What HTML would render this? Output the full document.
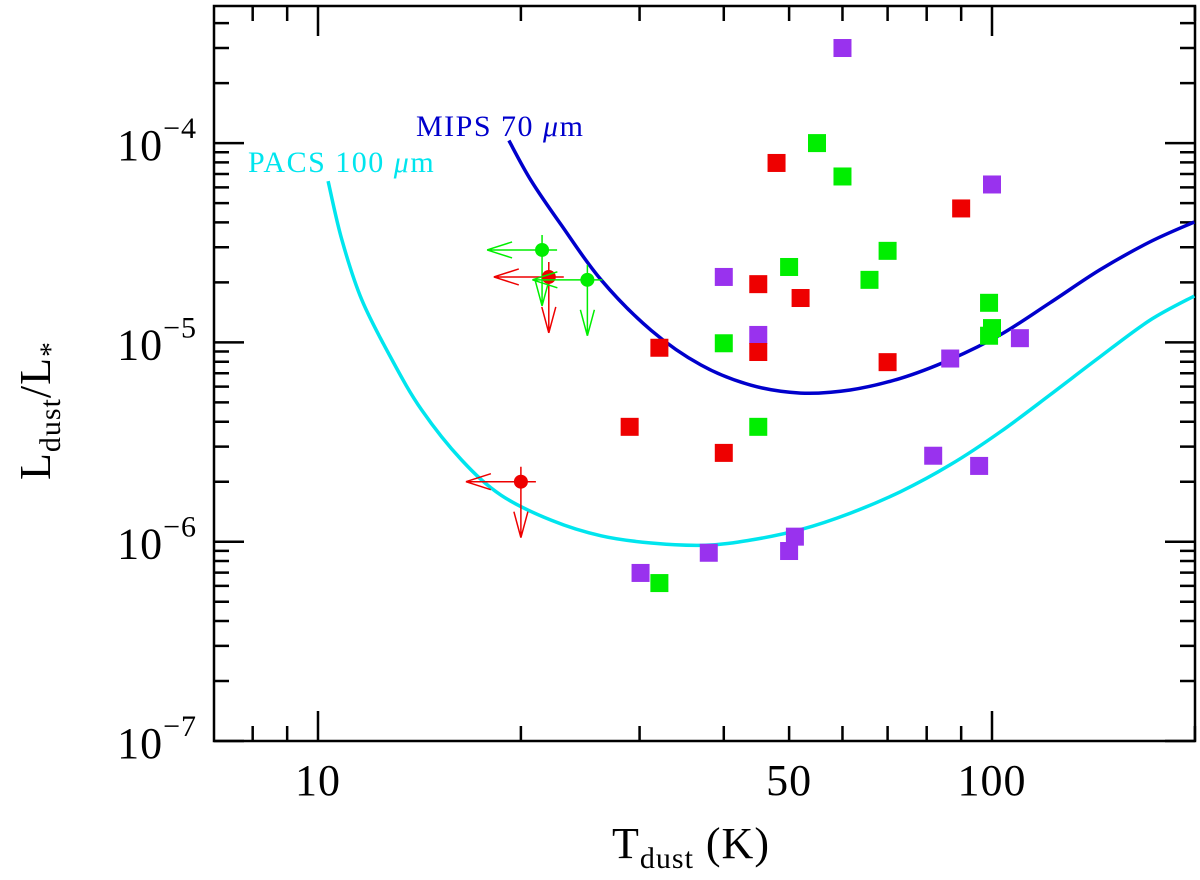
<!DOCTYPE html>
<html><head><meta charset="utf-8"><style>
html,body{margin:0;padding:0;background:#fff;}
svg{display:block;font-family:"Liberation Serif",serif;}
</style></head><body>
<svg id="chart" width="1200" height="880" viewBox="0 0 1200 880" xmlns="http://www.w3.org/2000/svg">
<g id="axes"></g><g id="curves"></g><g id="marks"></g>
<text x="416" y="136" fill="#0000cc" font-size="30" letter-spacing="1.5" font-family="Liberation Serif, serif">MIPS 70 <tspan font-style="italic">μ</tspan>m</text>
<text x="248" y="172" fill="#00e5ee" font-size="30" letter-spacing="1.5" font-family="Liberation Serif, serif">PACS 100 <tspan font-style="italic">μ</tspan>m</text>
<text x="612" y="858" font-size="44" letter-spacing="1">T<tspan font-size="30" dy="10">dust</tspan><tspan dy="-10">  (K)</tspan></text>
<text transform="translate(50,480) rotate(-90)" font-size="44" letter-spacing="1">L<tspan font-size="30" dy="10">dust</tspan><tspan dy="-10">/L</tspan><tspan font-size="30" dy="10">*</tspan></text>
</svg>
<script>
const purpleT=[60,100,40,45,86.7,110,81.8,95.7,51,50,38,30.1];
const purpleL=[3.0e-4,6.2e-5,2.13e-5,1.09e-5,8.3e-6,1.05e-5,2.7e-6,2.4e-6,1.06e-6,8.98e-7,8.8e-7,6.97e-7];
const greenT=[55,60,70,65.8,50,99,100,99,40,45,32.1];
const greenL=[1.0e-4,6.8e-5,2.88e-5,2.06e-5,2.39e-5,1.58e-5,1.18e-5,1.08e-5,9.9e-6,3.77e-6,6.2e-7];
const redT=[47.9,90,45,52,32.1,45,70,29,40];
const redL=[7.95e-5,4.7e-5,1.96e-5,1.67e-5,9.4e-6,8.95e-6,7.96e-6,3.77e-6,2.79e-6];
const limT=[21.5,22.0,25.1,20];
const limL=[2.91e-5,2.13e-5,2.06e-5,2.0e-6];
const limColor=["#00ee00","#ee0000","#00ee00","#ee0000"];
const mipsT=[19.2,20.7,22.96,26.3,31.2,37.0,43.9,52,61.6,73.1,86.7,102.8,121.9,144.5,171.4,199.6];
const mipsL=[1.03e-4,6.5e-5,3.88e-5,2.06e-5,1.15e-5,7.7e-6,6.1e-6,5.57e-6,5.77e-6,6.6e-6,8.2e-6,1.09e-5,1.58e-5,2.31e-5,3.19e-5,4.02e-5];
const pacsT=[10.35,10.85,11.62,12.87,14.25,16.33,18.7,22.2,26.3,31.2,37.6,43.9,52,61.6,73.1,86.7,102.8,121.9,144.5,171.4,199.6];
const pacsL=[6.45e-5,3.27e-5,1.63e-5,8.2e-6,4.58e-6,2.57e-6,1.71e-6,1.28e-6,1.07e-6,9.85e-7,9.6e-7,1.02e-6,1.15e-6,1.39e-6,1.78e-6,2.43e-6,3.55e-6,5.45e-6,8.45e-6,1.29e-5,1.71e-5];
const xTickLabels=[10,50,100];
const yTickExps=[-7,-6,-5,-4];

const L=214,R=1195,T=6,B=741;
const X=t=>318+674*(Math.log10(t)-1);
const Y=v=>B-199.3*(Math.log10(v)+7);
const NS="http://www.w3.org/2000/svg";
function mk(tag,attrs,parent){const e=document.createElementNS(NS,tag);for(const k in attrs)e.setAttribute(k,attrs[k]);parent.appendChild(e);return e;}
const axes=document.getElementById('axes'),curves=document.getElementById('curves'),marks=document.getElementById('marks');
const frame=mk('rect',{x:L,y:T,width:R-L,height:B-T,fill:'none',stroke:'#000','stroke-width':2.5},axes);


function xtick(val,len){const x=X(val);if(x<L||x>R)return;
 const tk=mk('path',{d:`M${x},${B}V${B-len}M${x},${T}V${T+len}`,stroke:'#000','stroke-width':2.5},axes);
 
 }
for(const m of [8,9])xtick(m,15);
for(let d=1;d<=2;d++)for(let m=1;m<=9;m++)xtick(m*Math.pow(10,d),m===1?30:15);
xTickLabels.forEach(v=>{const t=mk('text',{x:X(v),y:795,'text-anchor':'middle','font-size':44,'letter-spacing':1},axes);t.textContent=v;
 
 });
for(let e=-7;e<=-4;e++)for(let m=1;m<=9;m++){const y=Y(m*Math.pow(10,e));if(y<T||y>B)continue;const len=m===1?30:15;
 const tk=mk('path',{d:`M${L},${y}H${L+len}M${R},${y}H${R-len}`,stroke:'#000','stroke-width':2.5},axes);
 
 }
yTickExps.forEach(e=>{const t=mk('text',{x:197,y:Y(Math.pow(10,e))+17,'text-anchor':'end','font-size':44,'letter-spacing':1},axes);
 t.innerHTML=`10<tspan font-size="30" dy="-22">−${-e}</tspan>`;
 
 });
function line(ts,ls,color,name){const p=ts.map((t,i)=>[X(t),Y(ls[i])]);
 let d=`M${p[0][0].toFixed(1)},${p[0][1].toFixed(1)}`;
 for(let i=0;i<p.length-1;i++){const p0=p[Math.max(0,i-1)],p1=p[i],p2=p[i+1],p3=p[Math.min(p.length-1,i+2)];
  const c1=[p1[0]+(p2[0]-p0[0])/6,p1[1]+(p2[1]-p0[1])/6],c2=[p2[0]-(p3[0]-p1[0])/6,p2[1]-(p3[1]-p1[1])/6];
  d+=`C${c1[0].toFixed(1)},${c1[1].toFixed(1)} ${c2[0].toFixed(1)},${c2[1].toFixed(1)} ${p2[0].toFixed(1)},${p2[1].toFixed(1)}`;}
 const e=mk('path',{d,fill:'none',stroke:color,'stroke-width':3.5},curves);
 
 }
line(mipsT,mipsL,'#0000cc','mips-70-curve');
line(pacsT,pacsL,'#00e5ee','pacs-100-curve');
function squares(ts,ls,color,name){ts.forEach((t,i)=>{const r=mk('rect',{x:X(t)-9,y:Y(ls[i])-9,width:18,height:18,fill:color},marks);
 
 });}
squares(purpleT,purpleL,'#9932ee','purple-point');
squares(greenT,greenL,'#00ee00','green-point');
squares(redT,redL,'#ee0000','red-point');
limT.forEach((t,i)=>{const x=X(t),y=Y(limL[i]),c=limColor[i];
 const g=mk('g',{stroke:c,'stroke-width':1.5,fill:'none'},marks);
 
 
 mk('path',{d:`M${x-15},${y}H${x+15}M${x},${y-15}V${y+15}M${x},${y}H${x-55}M${x-55},${y}L${x-30},${y-8}M${x-55},${y}L${x-30},${y+8}M${x},${y}V${y+56}M${x},${y+56}L${x-7},${y+30}M${x},${y+56}L${x+7},${y+30}`},g);
 mk('circle',{cx:x,cy:y,r:7,fill:c,stroke:'none'},g);});
</script>
</body></html>
